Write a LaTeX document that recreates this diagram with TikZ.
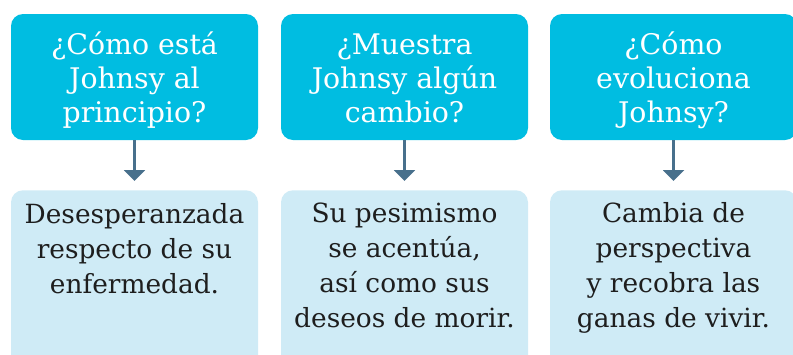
\documentclass[tikz,border=0pt]{standalone}
\usepackage{fontspec}
\setmainfont{DejaVu Serif}
\usetikzlibrary{arrows.meta}
\definecolor{topcol}{RGB}{0,189,225}
\definecolor{botcol}{RGB}{207,235,246}
\definecolor{arrcol}{RGB}{72,112,140}
\definecolor{txtcol}{RGB}{30,30,30}
\newcommand{\firstline}{\rule{0pt}{22pt}}
\begin{document}
\begin{tikzpicture}[x=0.75pt,y=-0.75pt,
  topbox/.style={fill=topcol,draw=none,rounded corners=9pt,minimum width=185.25pt,minimum height=94.5pt,inner sep=0pt},
  botbox/.style={fill=botcol,draw=none,rounded corners=9pt,minimum width=185.25pt,minimum height=142.5pt,inner sep=0pt,anchor=north},
  toptext/.style={anchor=north,align=center,inner sep=0pt,text=white,font=\fontsize{21.3}{25.5}\selectfont},
  bottext/.style={anchor=north,align=center,inner sep=0pt,text=txtcol,font=\fontsize{19.8}{26.2}\selectfont},
  arr/.style={draw=arrcol,line width=1.6pt,-{Triangle[width=15.75pt,length=8.25pt]},shorten >=6.75pt}]
\useasboundingbox (0,0) rectangle (793,354);
\begin{scope}
\clip (0,0) rectangle (793,354);
% top boxes
\node[topbox] (t1) at (134.5,77) {};
\node[topbox] (t2) at (404.5,77) {};
\node[topbox] (t3) at (673.5,77) {};
% bottom boxes
\node[botbox] (b1) at (134.5,190) {};
\node[botbox] (b2) at (404.5,190) {};
\node[botbox] (b3) at (673.5,190) {};
\end{scope}
% top texts
\node[toptext] (q1) at (134.5,24.7) {\firstline¿Cómo está\\Johnsy al\\principio?};
\node[toptext] (q2) at (404.5,24.7) {\firstline¿Muestra\\Johnsy algún\\cambio?};
\node[toptext] (q3) at (673.5,24.7) {\firstline¿Cómo\\evoluciona\\Johnsy?};
% bottom texts
\node[bottext] (a1) at (134.5,193.6) {\firstline Desesperanzada\\respecto de su\\enfermedad.};
\node[bottext] (a2) at (404.5,192.6) {\firstline Su pesimismo\\se acentúa,\\así como sus\\deseos de morir.};
\node[bottext] (a3) at (673.5,192.6) {\firstline Cambia de\\perspectiva\\y recobra las\\ganas de vivir.};
% arrows
\draw[arr] (t1.south) -- (b1.north);
\draw[arr] (t2.south) -- (b2.north);
\draw[arr] (t3.south) -- (b3.north);
\end{tikzpicture}
\end{document}
